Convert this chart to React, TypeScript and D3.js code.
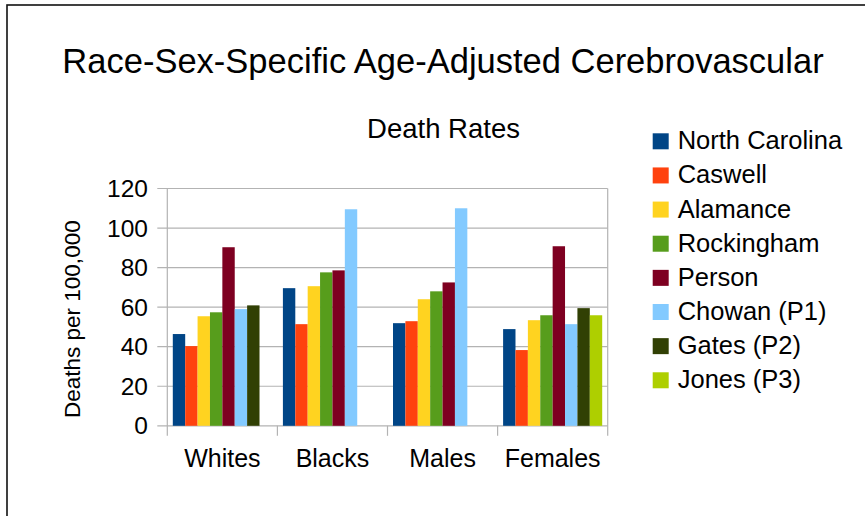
import React, { useEffect, useRef } from 'react';
import * as d3 from 'd3';

const categories = ['Whites', 'Blacks', 'Males', 'Females'];
const seriesNames = [
  'North Carolina',
  'Caswell',
  'Alamance',
  'Rockingham',
  'Person',
  'Chowan (P1)',
  'Gates (P2)',
  'Jones (P3)',
];
const seriesColors = ['#004586', '#ff420e', '#ffd320', '#579d1c', '#7e0021', '#83caff', '#314004', '#aecf00'];

// one array per series, values for Whites, Blacks, Males, Females (null = no bar)
const northCarolina = [46.4, 69.6, 51.9, 48.9];
const caswell = [40.3, 51.4, 52.9, 38.3];
const alamance = [55.4, 70.6, 64.0, 53.4];
const rockingham = [57.4, 77.6, 68.0, 55.9];
const person = [90.3, 78.6, 72.5, 90.8];
const chowan = [59.0, 109.5, 110.0, 51.4];
const gates = [60.9, null, null, 59.5];
const jones = [null, null, null, 55.9];
const seriesValues: (number | null)[][] = [northCarolina, caswell, alamance, rockingham, person, chowan, gates, jones];

const yTicks = [0, 20, 40, 60, 80, 100, 120];

const FONT = '"Liberation Sans", Arial, sans-serif';

export default function App() {
  const svgRef = useRef<SVGSVGElement>(null);

  useEffect(() => {
    if (!svgRef.current) return;
    const svg = d3.select(svgRef.current);
    svg.selectAll('*').remove();

    const plot = { left: 167.3, right: 607.7, top: 188.5, bottom: 425.8 };

    svg.append('rect').attr('width', 865).attr('height', 516).attr('fill', '#ffffff');

    // outer frame (runs off the right and bottom edges)
    svg
      .append('rect')
      .attr('x', 7)
      .attr('y', 5)
      .attr('width', 900)
      .attr('height', 560)
      .attr('fill', 'none')
      .attr('stroke', '#111')
      .attr('stroke-width', 1.6);

    const y = d3.scaleLinear().domain([0, 120]).range([plot.bottom, plot.top]);
    const x0 = d3
      .scaleBand<string>()
      .domain(categories)
      .range([plot.left, plot.right])
      .paddingInner(0.1)
      .paddingOuter(0.05);
    const x1 = d3
      .scaleBand<string>()
      .domain(seriesNames)
      .range([0, x0.bandwidth()]);

    // grid
    svg
      .selectAll('.grid')
      .data(yTicks)
      .enter()
      .append('line')
      .attr('x1', plot.left - 10)
      .attr('x2', plot.right)
      .attr('y1', (d) => y(d))
      .attr('y2', (d) => y(d))
      .attr('stroke', '#b3b3b3')
      .attr('stroke-width', 1.2);

    // bars
    seriesNames.forEach((name, si) => {
      const rows = categories
        .map((c, ci) => ({ c, v: seriesValues[si][ci] }))
        .filter((r) => r.v !== null) as { c: string; v: number }[];
      svg
        .append('g')
        .selectAll('rect')
        .data(rows)
        .enter()
        .append('rect')
        .attr('x', (d) => (x0(d.c) as number) + (x1(name) as number))
        .attr('y', (d) => y(d.v))
        .attr('width', x1.bandwidth())
        .attr('height', (d) => plot.bottom - y(d.v))
        .attr('fill', seriesColors[si]);
    });

    // plot frame + axes
    const step = x0.step();
    svg
      .append('line')
      .attr('x1', plot.left)
      .attr('x2', plot.left)
      .attr('y1', plot.top)
      .attr('y2', plot.bottom + 10)
      .attr('stroke', '#b3b3b3')
      .attr('stroke-width', 1.2);
    svg
      .append('line')
      .attr('x1', plot.right)
      .attr('x2', plot.right)
      .attr('y1', plot.top)
      .attr('y2', plot.bottom + 10)
      .attr('stroke', '#b3b3b3')
      .attr('stroke-width', 1.2);
    svg
      .selectAll('.xtick')
      .data(d3.range(1, categories.length))
      .enter()
      .append('line')
      .attr('x1', (i) => plot.left + i * step)
      .attr('x2', (i) => plot.left + i * step)
      .attr('y1', plot.bottom)
      .attr('y2', plot.bottom + 10)
      .attr('stroke', '#b3b3b3')
      .attr('stroke-width', 1.2);

    // y tick labels
    svg
      .selectAll('.ylab')
      .data(yTicks)
      .enter()
      .append('text')
      .attr('x', 148)
      .attr('y', (d) => y(d))
      .attr('dy', '0.35em')
      .attr('text-anchor', 'end')
      .style('font-family', FONT)
      .style('font-size', '24.5px')
      .attr('fill', '#000')
      .text((d) => d);

    // x labels
    svg
      .selectAll('.xlab')
      .data(categories)
      .enter()
      .append('text')
      .attr('x', (d) => (x0(d) as number) + x0.bandwidth() / 2)
      .attr('y', 467)
      .attr('text-anchor', 'middle')
      .style('font-family', FONT)
      .style('font-size', '25px')
      .attr('fill', '#000')
      .text((d) => d);

    // y axis title
    svg
      .append('text')
      .attr('transform', `translate(80, ${(plot.top + plot.bottom) / 2 + 12}) rotate(-90)`)
      .attr('text-anchor', 'middle')
      .style('font-family', FONT)
      .style('font-size', '22.5px')
      .attr('fill', '#000')
      .text('Deaths per 100,000');

    // titles
    svg
      .append('text')
      .attr('x', 443)
      .attr('y', 72.5)
      .attr('text-anchor', 'middle')
      .style('font-family', FONT)
      .style('font-size', '34.5px')
      .attr('fill', '#000')
      .text('Race-Sex-Specific Age-Adjusted Cerebrovascular');
    svg
      .append('text')
      .attr('x', 443.5)
      .attr('y', 137.7)
      .attr('text-anchor', 'middle')
      .style('font-family', FONT)
      .style('font-size', '27.5px')
      .attr('fill', '#000')
      .text('Death Rates');

    // legend
    const legend = svg
      .selectAll('.legend')
      .data(seriesNames)
      .enter()
      .append('g')
      .attr('transform', (_, i) => `translate(652.7, ${149.3 + i * 34.14})`);
    legend
      .append('rect')
      .attr('x', 0)
      .attr('y', -16)
      .attr('width', 16)
      .attr('height', 16)
      .attr('fill', (_, i) => seriesColors[i]);
    legend
      .append('text')
      .attr('x', 25)
      .attr('y', 0)
      .style('font-family', FONT)
      .style('font-size', '25.5px')
      .attr('fill', '#000')
      .text((d) => d);
  }, []);

  return (
    <svg
      ref={svgRef}
      width={865}
      height={516}
      style={{ position: 'absolute', left: 0, top: 0, display: 'block' }}
    />
  );
}
